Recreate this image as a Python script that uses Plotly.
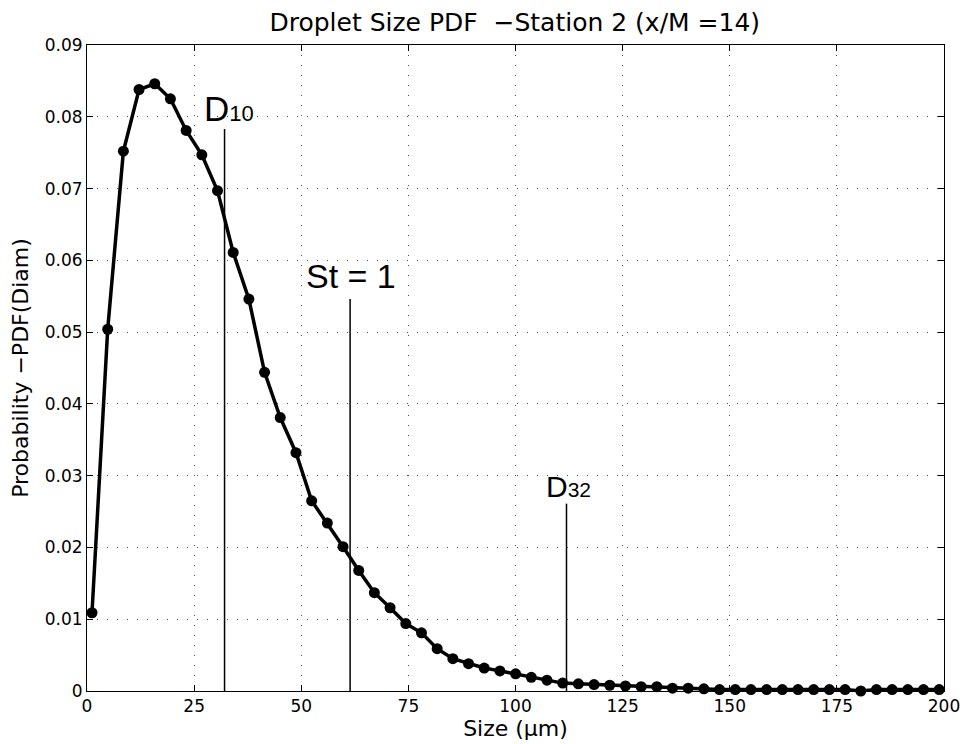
import plotly.graph_objects as go

size_um = [1.17, 4.83, 8.49, 12.15, 15.81, 19.47, 23.14, 26.80, 30.46, 34.12,
           37.78, 41.44, 45.10, 48.77, 52.43, 56.09, 59.75, 63.41, 67.07, 70.73,
           74.40, 78.06, 81.72, 85.38, 89.04, 92.70, 96.36, 100.03, 103.69, 107.35,
           111.01, 114.67, 118.33, 121.99, 125.66, 129.32, 132.98, 136.64, 140.30, 143.96,
           147.62, 151.29, 154.95, 158.61, 162.27, 165.93, 169.59, 173.25, 176.92, 180.58,
           184.24, 187.90, 191.56, 195.22, 198.88]
pdf_vals = [0.0109, 0.0504, 0.0752, 0.0838, 0.0846, 0.0825, 0.0781, 0.0747, 0.0697, 0.0611,
            0.0546, 0.0444, 0.0381, 0.0332, 0.0265, 0.0234, 0.0201, 0.0168, 0.0137, 0.0116,
            0.0094, 0.0081, 0.0059, 0.0045, 0.0038, 0.0032, 0.0028, 0.0024, 0.0019, 0.0015,
            0.0011, 0.0010, 0.0009, 0.0008, 0.0007, 0.0006, 0.0006, 0.0004, 0.0004, 0.0003,
            0.0002, 0.0002, 0.0002, 0.0002, 0.0002, 0.0002, 0.0002, 0.0002, 0.0002, 0.0000,
            0.0002, 0.0002, 0.0002, 0.0002, 0.0002]

marker_names = ["D10", "St = 1", "D32"]
marker_x = [32.1, 61.4, 111.9]
marker_top = [0.0783, 0.0546, 0.0261]

x_ticks = [0, 25, 50, 75, 100, 125, 150, 175, 200]
y_ticks = [0, 0.01, 0.02, 0.03, 0.04, 0.05, 0.06, 0.07, 0.08, 0.09]
y_tick_labels = ["0", "0.01", "0.02", "0.03", "0.04", "0.05", "0.06", "0.07", "0.08", "0.09"]

fig = go.Figure()

for name, xv, top in zip(marker_names, marker_x, marker_top):
    fig.add_trace(go.Scatter(x=[xv, xv], y=[0, top], mode="lines",
                             line=dict(color="black", width=1.5),
                             showlegend=False, hoverinfo="skip", name=name))

fig.add_trace(go.Scatter(x=size_um, y=pdf_vals, mode="lines+markers",
                         line=dict(color="black", width=3.5),
                         marker=dict(color="black", size=11, symbol="circle"),
                         showlegend=False, cliponaxis=False))

ann_font = dict(family="Liberation Sans, Arial", color="black")
fig.add_annotation(x=33.1, y=0.0812, xref="x", yref="y", showarrow=False,
                   text='D<span style="font-size:22px">10</span>',
                   font=dict(size=35, **ann_font))
fig.add_annotation(x=61.6, y=0.0578, xref="x", yref="y", showarrow=False,
                   text="St = 1", font=dict(size=34, **ann_font))
fig.add_annotation(x=112.3, y=0.0285, xref="x", yref="y", showarrow=False,
                   text='D<span style="font-size:21px">32</span>',
                   font=dict(size=30, **ann_font))

axis_common = dict(showline=True, linecolor="black", linewidth=1, mirror="ticks",
                   ticks="inside", ticklen=6, tickcolor="black",
                   showgrid=True, gridcolor="rgba(0,0,0,0.7)", gridwidth=1,
                   griddash="1px,9px", zeroline=False, automargin=False,
                   tickfont=dict(family="DejaVu Sans", size=17, color="black"))

fig.update_xaxes(range=[0, 200], tickvals=x_ticks,
                 title=dict(text="Size (µm)", font=dict(family="DejaVu Sans", size=22, color="black"),
                            standoff=4),
                 **axis_common)
fig.update_yaxes(range=[0, 0.09], tickvals=y_ticks, ticktext=y_tick_labels,
                 title=dict(text="Probability −PDF(Diam)", font=dict(family="DejaVu Sans", size=22, color="black"),
                            standoff=10),
                 **axis_common)

fig.update_layout(
    width=964, height=744,
    margin=dict(l=87, r=20, t=45, b=53),
    paper_bgcolor="white", plot_bgcolor="white",
    title=dict(text="Droplet Size PDF  −Station 2 (x/M =14)", x=0.534, xanchor="center",
               y=0.97, yanchor="middle",
               font=dict(family="DejaVu Sans", size=25, color="black")),
)

fig.write_html("out.html")
